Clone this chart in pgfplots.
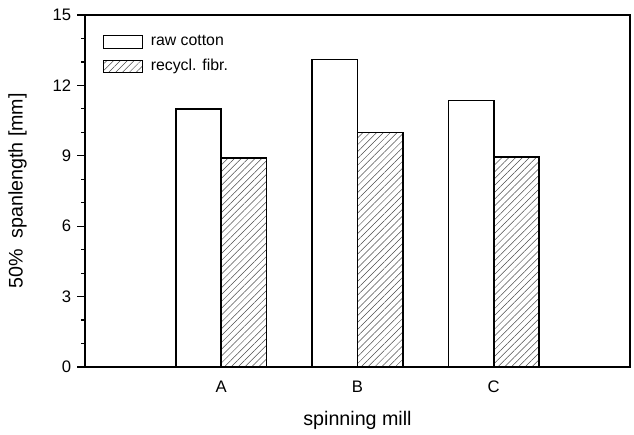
\documentclass[border=0pt]{standalone}
\usepackage{fontspec}
\setmainfont{Liberation Sans}
\usepackage{pgfplots}
\pgfplotsset{compat=1.18}
\usetikzlibrary{patterns.meta}

\begin{document}
\begin{tikzpicture}
\begin{axis}[
  name=main,
  scale only axis,
  width=327pt, height=211.2pt,
  xmin=0, xmax=4,
  ymin=0, ymax=15,
  ytick={0,3,...,15},
  minor ytick={1,2,4,5,7,8,10,11,13,14},
  xtick={1,2,3},
  xticklabels={A,B,C},
  ytick pos=left,
  xtick pos=bottom,
  tick align=outside,
  major tick length=4.8pt,
  minor tick length=2.4pt,
  x tick style={draw=none},
  tick style={black, line width=0.7pt},
  axis line style={black, line width=1pt},
  ybar=0pt,
  bar width=0.333,
  /pgf/number format/assume math mode=true,
  tick label style={font=\fontsize{10}{12}\selectfont},
  label style={font=\fontsize{11.8}{14}\selectfont},
  ylabel={50\%\ \ spanlength [mm]},
  xlabel={spinning mill},
  ylabel style={at={(axis description cs:-0.124,0.5)}, anchor=center},
  xlabel style={at={(axis description cs:0.5,-0.153)}, anchor=center},
  legend style={at={(axis description cs:0.033,0.952)}, anchor=north west,
    draw=none, fill=none, inner sep=0pt,
    font=\fontsize{9.5}{11.4}\selectfont, row sep=2.6pt,
    nodes={inner xsep=4.8pt}},
  legend cell align=left,
  legend image code/.code={
    \draw[#1, line width=0.7pt] (0pt,-3.7pt) rectangle (23pt,3.7pt);
  },
]
\addplot[draw=black, fill=white, line width=1pt]
  coordinates {(1,11.0) (2,13.1) (3,11.35)};
\addlegendentry{raw cotton}
\addplot[draw=black, line width=1pt,
  pattern={Lines[angle=45, distance=2.9pt, line width=0.3pt]}, pattern color=black!70]
  coordinates {(1,8.9) (2,10.0) (3,8.95)};
\addlegendentry{recycl. fibr.}
\end{axis}
% page margins around the plot frame
\pgfresetboundingbox
\path ([xshift=-51pt, yshift=-40.2pt]main.south west)
      rectangle ([xshift=2.4pt, yshift=9pt]main.north east);
\end{tikzpicture}
\end{document}
